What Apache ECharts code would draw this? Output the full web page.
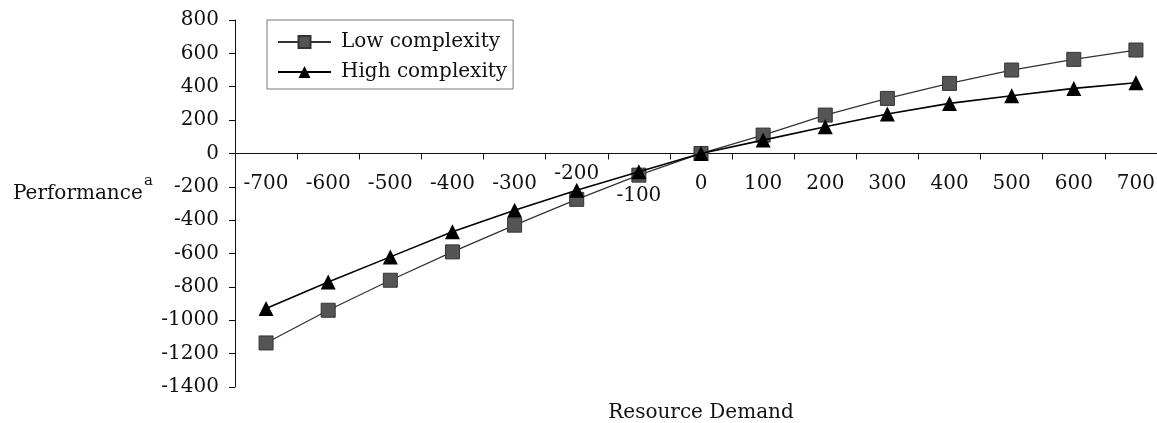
<!DOCTYPE html>
<html>
<head>
<meta charset="utf-8">
<script src="https://cdn.jsdelivr.net/npm/echarts@6/dist/echarts.min.js"></script>
<style>
html,body{margin:0;padding:0;background:#fff;}
#chart{width:1157px;height:423px;}
</style>
</head>
<body>
<div id="chart"></div>
<script>
const categories = ['-700','-600','-500','-400','-300','-200','-100','0','100','200','300','400','500','600','700'];
const lowComplexity  = [-1136, -940, -760, -590, -430, -275, -130, 0, 110, 230, 330, 420, 500, 564, 620];
const highComplexity = [-930, -770, -620, -470, -340, -220, -110, 0, 80, 160, 236, 300, 346, 390, 424];
const yTicks = { min: -1400, max: 800, interval: 200 };

const FONT = 'DejaVu Serif';
const GRID_TOP = 20, GRID_BOTTOM = 36, H = 423;
const gridHeight = H - GRID_TOP - GRID_BOTTOM;
// lift the category axis (line, ticks, labels) from the bottom of the grid to y = 0
const zeroOffset = -gridHeight * (0 - yTicks.min) / (yTicks.max - yTicks.min);

const chart = echarts.init(document.getElementById('chart'));
chart.setOption({
  animation: false,
  backgroundColor: '#fff',
  textStyle: { fontFamily: FONT, color: '#111' },
  grid: { left: 235, right: -10, top: GRID_TOP, bottom: GRID_BOTTOM, containLabel: false, outerBoundsMode: 'none' },
  legend: {
    left: 267, top: 20, orient: 'vertical',
    padding: [12, 6, 7, 10], itemGap: 10,
    itemWidth: 53, itemHeight: 15,
    borderColor: '#777', borderWidth: 1, backgroundColor: '#fff',
    textStyle: { fontFamily: FONT, fontSize: 20, color: '#111', padding: [0, 0, 0, 5] },
    data: ['Low complexity', 'High complexity']
  },
  xAxis: {
    type: 'category',
    data: categories,
    boundaryGap: true,
    position: 'bottom',
    offset: zeroOffset,
    axisLine: { onZero: false, lineStyle: { color: '#111', width: 1 } },
    axisTick: { show: true, length: 6, alignWithLabel: false, lineStyle: { color: '#111' } },
    axisLabel: {
      interval: 0, margin: 10,
      formatter: function (v) {
        if (v === '-200') return '{u|' + v + '}';
        if (v === '-100') return '{d|' + v + '}';
        return '{n|' + v + '}';
      },
      rich: {
        u: { fontFamily: FONT, fontSize: 20, lineHeight: 20, color: '#111', padding: [0, 0, 0, 0] },
        n: { fontFamily: FONT, fontSize: 20, lineHeight: 20, color: '#111', padding: [21, 0, 0, 0] },
        d: { fontFamily: FONT, fontSize: 20, lineHeight: 20, color: '#111', padding: [44, 0, 0, 0] }
      }
    },
    splitLine: { show: false }
  },
  yAxis: {
    type: 'value',
    min: yTicks.min, max: yTicks.max, interval: yTicks.interval,
    axisLine: { show: true, onZero: false, lineStyle: { color: '#111', width: 1 } },
    axisTick: { show: true, length: 6, lineStyle: { color: '#111' } },
    axisLabel: { fontFamily: FONT, fontSize: 20, color: '#111', margin: 16, formatter: function (v) { return String(v); } },
    splitLine: { show: false }
  },
  graphic: [
    { type: 'text', left: 13, top: 184, style: { text: 'Performance', font: '20px "DejaVu Serif"', fill: '#111' } },
    { type: 'text', left: 144, top: 174, style: { text: 'a', font: '15px "DejaVu Serif"', fill: '#111' } },
    { type: 'text', x: 701, y: 413, style: { text: 'Resource Demand', font: '20px "DejaVu Serif"', fill: '#111', align: 'center', verticalAlign: 'middle' } }
  ],
  series: [
    {
      name: 'Low complexity', type: 'line', data: lowComplexity,
      symbol: 'rect', symbolSize: 14,
      lineStyle: { color: '#333', width: 1.3 },
      itemStyle: { color: '#555', borderColor: '#333', borderWidth: 1 },
      z: 2
    },
    {
      name: 'High complexity', type: 'line', data: highComplexity,
      symbol: 'triangle', symbolSize: 15,
      lineStyle: { color: '#000', width: 1.6 },
      itemStyle: { color: '#000' },
      z: 3
    }
  ]
});
</script>
</body>
</html>
